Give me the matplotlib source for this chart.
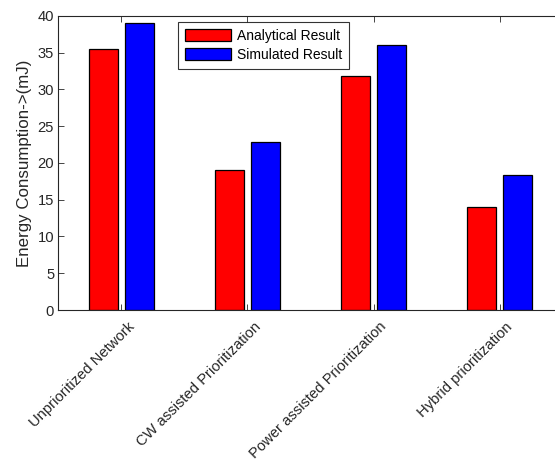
import numpy as np
import matplotlib
matplotlib.use("Agg")
import matplotlib.pyplot as plt
from matplotlib.transforms import ScaledTranslation

plt.rcParams["font.family"] = ["Liberation Sans", "DejaVu Sans"]

# Chart data
categories = [
    "Unprioritized Network",
    "CW assisted Prioritization",
    "Power assisted Prioritization",
    "Hybrid prioritization",
]
analytical = [35.5, 19.1, 31.8, 14.0]
simulated = [39.1, 22.9, 36.1, 18.3]
series_names = ["Analytical Result", "Simulated Result"]

x = np.arange(1, len(categories) + 1)
bar_w = 0.23
offset = 0.143

fig = plt.figure(figsize=(5.55, 4.62), dpi=100)
ax = fig.add_axes([0.105, 0.329, 0.909, 0.6364])

ax.bar(x - offset, analytical, width=bar_w, color="#ff0000",
       edgecolor="black", linewidth=0.9, label=series_names[0])
ax.bar(x + offset, simulated, width=bar_w, color="#0000ff",
       edgecolor="black", linewidth=0.9, label=series_names[1])

ax.set_xlim(0.5, 4.5)
ax.set_ylim(0, 40)
ax.set_yticks(np.arange(0, 41, 5))
ax.set_xticks(x)
ax.set_xticklabels(categories, rotation=45, ha="right", va="top",
                   rotation_mode="anchor", fontsize=10.6, color="#262626")
ax.tick_params(axis="y", labelsize=10.6, labelcolor="#262626", pad=3)
ax.tick_params(direction="in", length=4, width=0.6, top=True, right=False,
               colors="#262626")
ax.tick_params(axis="x", pad=4)
for lbl in ax.get_yticklabels():
    lbl.set_color("#262626")

# nudge rotated category labels so their ends sit like the original
shift = ScaledTranslation(0.06, -0.04, fig.dpi_scale_trans)
for lbl in ax.get_xticklabels():
    lbl.set_transform(lbl.get_transform() + shift)

for side in ["top", "bottom", "left"]:
    ax.spines[side].set_linewidth(0.8)
    ax.spines[side].set_color("#262626")
ax.spines["right"].set_visible(False)

ax.set_ylabel("Energy Consumption->(mJ)", fontsize=12.2, color="#262626",
              labelpad=4)

leg = ax.legend(loc="upper left", bbox_to_anchor=(178 / 555, 1 - 22 / 462),
                bbox_transform=fig.transFigure, fontsize=10, frameon=True,
                fancybox=False, borderpad=0.5, handlelength=3.3,
                handleheight=1.0, handletextpad=0.43, labelspacing=0.36,
                borderaxespad=0)
leg.get_frame().set_edgecolor("black")
leg.get_frame().set_linewidth(0.8)

fig.savefig("out.png", dpi=100)
